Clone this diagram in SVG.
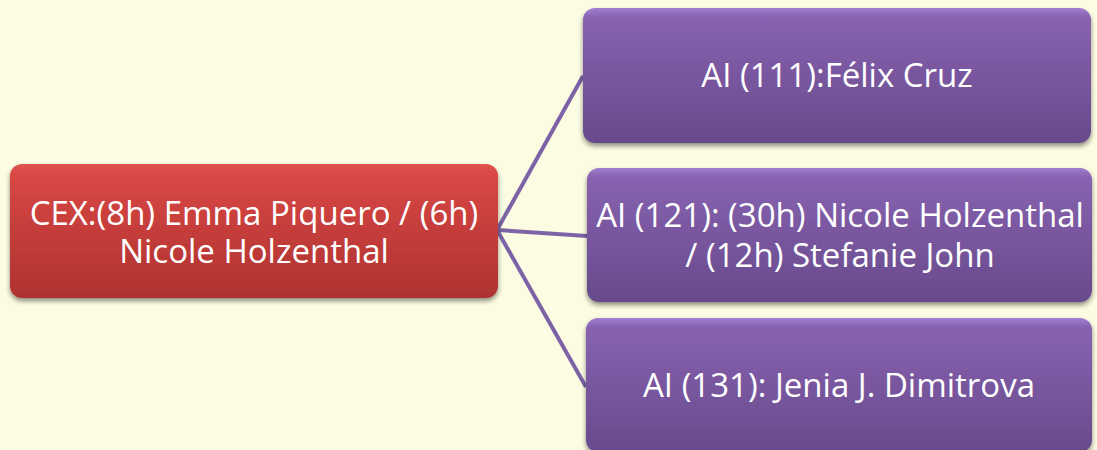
<svg xmlns="http://www.w3.org/2000/svg" width="1097" height="450" viewBox="0 0 1097 450">
<style>
.t{font-family:"Open Sans","Noto Sans",sans-serif;font-size:33px;fill:#ffffff;text-anchor:middle}
.c{stroke:#7d63a6;stroke-width:4;fill:none}
</style>
<defs>
<linearGradient id="gr" x1="0" y1="0" x2="0" y2="1">
<stop offset="0" stop-color="#e05450"/><stop offset="0.08" stop-color="#d84744"/><stop offset="1" stop-color="#ae3230"/>
</linearGradient>
<linearGradient id="gp" x1="0" y1="0" x2="0" y2="1">
<stop offset="0" stop-color="#a27ed2"/><stop offset="0.07" stop-color="#8762b0"/><stop offset="1" stop-color="#684a8b"/>
</linearGradient>
<filter id="sh" x="-5%" y="-10%" width="110%" height="125%">
<feGaussianBlur in="SourceAlpha" stdDeviation="2.5"/><feOffset dx="0" dy="3"/>
<feComponentTransfer><feFuncA type="linear" slope="0.45"/></feComponentTransfer>
<feMerge><feMergeNode/><feMergeNode in="SourceGraphic"/></feMerge>
</filter>
</defs>
<rect width="1097" height="450" fill="#fcfce3"/>
<g id="connectors">
<line class="c" x1="497" y1="230" x2="583" y2="76"/>
<line class="c" x1="497" y1="230" x2="587" y2="236"/>
<line class="c" x1="497" y1="230" x2="586" y2="387"/>
</g>
<g id="n0">
<rect x="10" y="164" width="488" height="134" rx="12" fill="url(#gr)" filter="url(#sh)"/>
<text class="t" x="254" y="225">CEX:(8h) Emma Piquero / (6h)</text>
<text class="t" x="254" y="263">Nicole Holzenthal</text>
</g>
<g id="n1">
<rect x="583" y="8" width="508" height="135" rx="12" fill="url(#gp)" filter="url(#sh)"/>
<text class="t" x="837" y="87">AI (111):Félix Cruz</text>
</g>
<g id="n2">
<rect x="587" y="168" width="505" height="134" rx="12" fill="url(#gp)" filter="url(#sh)"/>
<text class="t" x="840" y="227">AI (121): (30h) Nicole Holzenthal</text>
<text class="t" x="840" y="267">/ (12h) Stefanie John</text>
</g>
<g id="n3">
<rect x="586" y="318" width="506" height="134" rx="12" fill="url(#gp)" filter="url(#sh)"/>
<text class="t" x="839" y="397">AI (131): Jenia J. Dimitrova</text>
</g>
</svg>
